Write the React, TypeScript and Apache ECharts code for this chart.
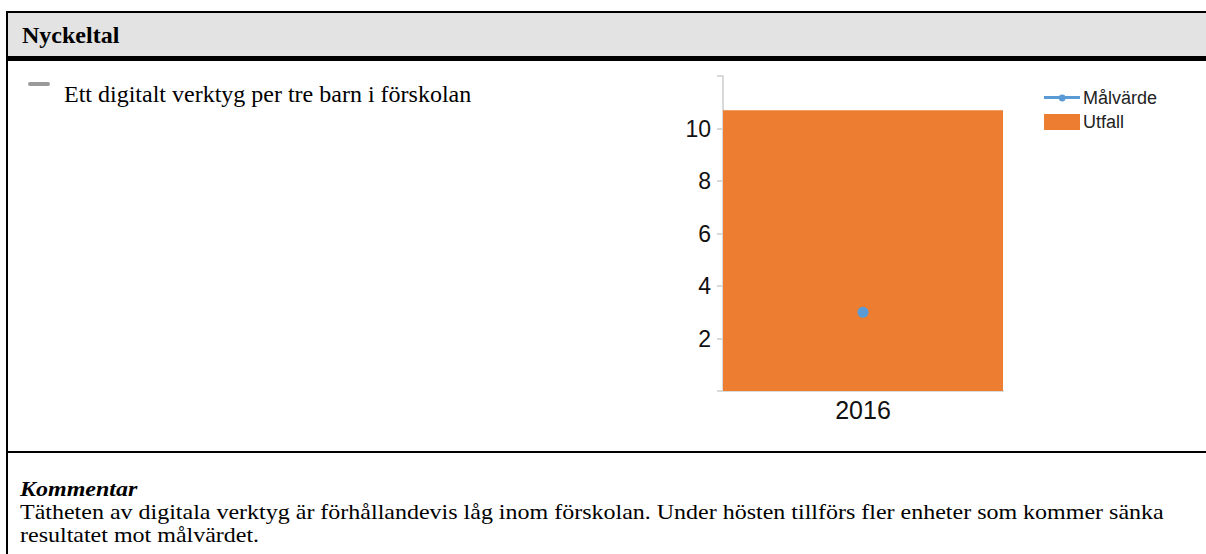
import React, { useEffect, useRef } from "react";
import * as echarts from "echarts";

const categories = ["2016"];
const utfall = [10.7];
const malvarde = [3];
const yMin = 0;
const yMax = 12;
const yInterval = 2;
const title = "Nyckeltal";
const indicator = "Ett digitalt verktyg per tre barn i förskolan";
const commentTitle = "Kommentar";
const commentLines = [
  "Tätheten av digitala verktyg är förhållandevis låg inom förskolan. Under hösten tillförs fler enheter som kommer sänka",
  "resultatet mot målvärdet.",
];

const lineIcon =
  "path://M0,6.5 L36,6.5 L36,9.5 L0,9.5 Z M14.8,8.5 A3.4,3.4 0 1,1 21.6,8.5 A3.4,3.4 0 1,1 14.8,8.5 Z";

export default function App() {
  const ref = useRef<HTMLDivElement>(null);
  useEffect(() => {
    if (!ref.current) return;
    const chart = echarts.init(ref.current, undefined, { renderer: "svg" });
    const serif = "'Liberation Serif', 'Times New Roman', serif";
    const sans = "'Liberation Sans', Arial, sans-serif";
    chart.setOption({
      animation: false,
      backgroundColor: "#ffffff",
      graphic: [
        { type: "rect", shape: { x: 8, y: 13, width: 1198, height: 43 }, style: { fill: "#e3e3e3" }, silent: true },
        { type: "rect", shape: { x: 6, y: 11, width: 1200, height: 2 }, style: { fill: "#000" }, silent: true },
        { type: "rect", shape: { x: 6, y: 11, width: 2, height: 543 }, style: { fill: "#000" }, silent: true },
        { type: "rect", shape: { x: 6, y: 56, width: 1200, height: 5 }, style: { fill: "#000" }, silent: true },
        { type: "rect", shape: { x: 6, y: 451, width: 1200, height: 2 }, style: { fill: "#000" }, silent: true },
        {
          type: "text", x: 22, y: 35,
          style: { text: title, font: `bold 24px ${serif}`, fill: "#000", verticalAlign: "middle", align: "left" },
        },
        { type: "rect", shape: { x: 28, y: 82, width: 22, height: 4, r: 2 }, style: { fill: "#9a9a9a" }, silent: true },
        {
          type: "text", x: 64, y: 94,
          style: { text: indicator, font: `24px ${serif}`, fill: "#000", verticalAlign: "middle", align: "left" },
        },
        {
          type: "text", x: 20, y: 489, scaleX: 1.2,
          style: { text: commentTitle, font: `italic bold 20px ${serif}`, fill: "#000", verticalAlign: "middle", align: "left" },
        },
        ...commentLines.map((t, i) => ({
          type: "text", x: 20, y: 512 + i * 23, scaleX: 1.2,
          style: { text: t, font: `20px ${serif}`, fill: "#000", verticalAlign: "middle", align: "left" },
        })),
      ],
      legend: {
        orient: "vertical",
        left: 1039,
        top: 84,
        itemWidth: 36,
        itemHeight: 16,
        itemGap: 6,
        textStyle: { fontFamily: sans, fontSize: 18, color: "#222", padding: [0, 0, 0, -2] },
        data: [
          { name: "Målvärde", icon: lineIcon, itemStyle: { color: "#5b9bd5" } },
          { name: "Utfall", icon: "rect" },
        ],
      },
      grid: { left: 723, top: 76, right: 203, bottom: 163, containLabel: false },
      xAxis: {
        type: "category",
        data: categories,
        axisLine: { show: true, lineStyle: { color: "#d9d9d9", width: 2 } },
        axisTick: { show: false },
        axisLabel: { fontFamily: sans, fontSize: 25, color: "#111", margin: 6 },
      },
      yAxis: {
        type: "value",
        min: yMin,
        max: yMax,
        interval: yInterval,
        splitLine: { show: false },
        axisLine: { show: true, lineStyle: { color: "#d9d9d9", width: 2 } },
        axisTick: { show: true, length: 6, lineStyle: { color: "#d9d9d9", width: 2 } },
        axisLabel: {
          fontFamily: sans, fontSize: 23, color: "#111", margin: 12,
          formatter: (v: number) => (v === yMin || v === yMax ? "" : String(v)),
        },
      },
      series: [
        {
          name: "Utfall",
          type: "bar",
          data: utfall,
          barWidth: "100%",
          itemStyle: { color: "#ed7d31" },
          z: 1,
        },
        {
          name: "Målvärde",
          type: "line",
          data: malvarde,
          symbol: "circle",
          symbolSize: 11,
          lineStyle: { color: "#5b9bd5", width: 3 },
          itemStyle: { color: "#5b9bd5" },
          z: 3,
        },
      ],
    });
    return () => chart.dispose();
  }, []);
  return (
    <div
      ref={ref}
      style={{ position: "fixed", left: 0, top: 0, width: 1206, height: 554 }}
    />
  );
}
